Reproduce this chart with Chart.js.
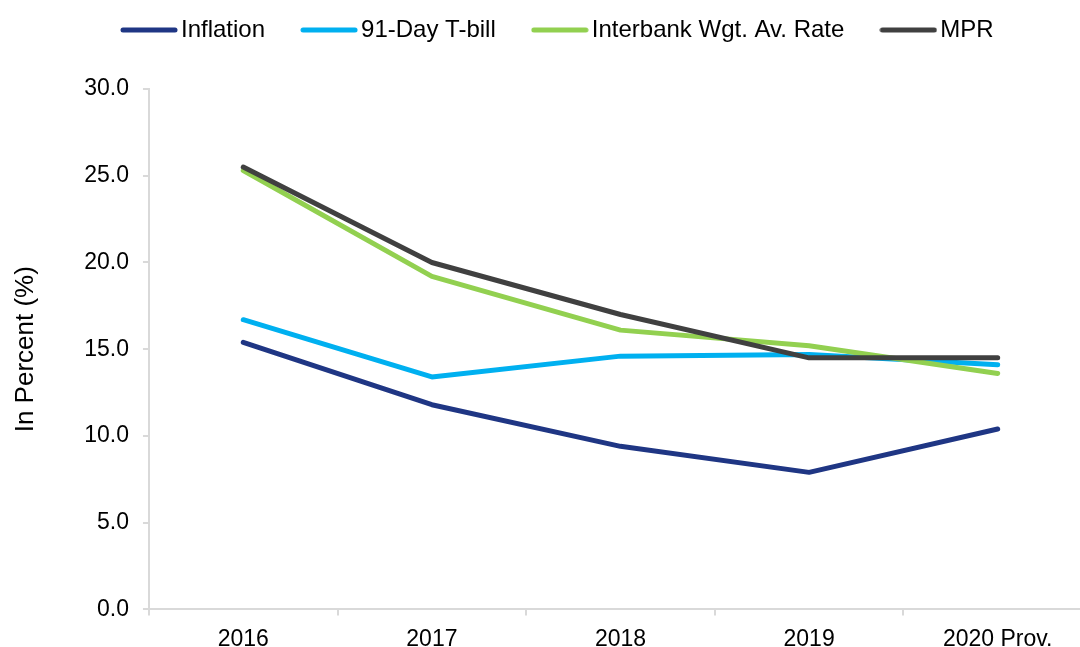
<!DOCTYPE html>
<html>
<head>
<meta charset="utf-8">
<script src="https://cdn.jsdelivr.net/npm/chart.js@4"></script>
<style>
  html, body { margin: 0; padding: 0; background: #fff; overflow: hidden; width: 1080px; height: 647px; }
  #wrap { position: relative; width: 1092px; height: 663px; }
</style>
</head>
<body>
<div id="wrap"><canvas id="chart"></canvas></div>
<script>
// ── DATA ────────────────────────────────────────
const years     = ['2016', '2017', '2018', '2019', '2020 Prov.'];
const inflation = [15.4, 11.8, 9.4, 7.9, 10.4];
const tbill     = [16.7, 13.4, 14.6, 14.7, 14.1];
const interbank = [25.3, 19.2, 16.1, 15.2, 13.6];
const mpr       = [25.5, 20.0, 17.0, 14.5, 14.5];

const axisGrey = '#d9d9d9';
const family = '"Liberation Sans", Arial, sans-serif';
const font = { family, size: 23 };
Chart.defaults.font = font;
Chart.defaults.color = '#000';

const LEGEND_PAD = 44;
const LEGEND_FONT = 24;

// legend marker: a short thick line, a bit wider than its box so the text sits close
function legendLine(color) {
  const c = document.createElement('canvas');
  c.width = 58;
  c.height = 8;
  const ctx = c.getContext('2d');
  ctx.strokeStyle = color;
  ctx.lineWidth = 5;
  ctx.lineCap = 'round';
  ctx.beginPath();
  ctx.moveTo(3, 4);
  ctx.lineTo(55, 4);
  ctx.stroke();
  return c;
}

// legend sits high, with a gap below it before the plot
const legendPlacement = {
  id: 'legendPlacement',
  afterInit(chart) {
    const fit = chart.legend.fit;
    chart.legend.fit = function () {
      fit.call(this);
      this.height = 89;
    };
  },
  afterLayout(chart) {
    const lg = chart.legend;
    lg.top = 30 - LEGEND_FONT / 2 - LEGEND_PAD;
    lg.bottom = lg.top + lg.height;
    lg.left = 129 - LEGEND_PAD;
  }
};

function series(label, data, color, order) {
  return {
    label, data, order,
    borderColor: color,
    backgroundColor: color,
    borderWidth: 5,
    borderCapStyle: 'round',
    borderJoinStyle: 'round',
    pointRadius: 0,
    pointHoverRadius: 0,
    pointStyle: legendLine(color),
    tension: 0,
    fill: false
  };
}

new Chart(document.getElementById('chart'), {
  type: 'line',
  data: {
    labels: years,
    datasets: [
      series('Inflation', inflation, '#1f3684', 4),
      series('91-Day T-bill', tbill, '#00b0f0', 3),
      series('Interbank Wgt. Av. Rate', interbank, '#92d050', 2),
      series('MPR', mpr, '#404040', 1)
    ]
  },
  plugins: [legendPlacement],
  options: {
    responsive: true,
    maintainAspectRatio: false,
    animation: false,
    layout: { padding: { left: 10, right: 0, top: 0, bottom: 0 } },
    plugins: {
      tooltip: { enabled: false },
      legend: {
        position: 'top',
        align: 'start',
        labels: {
          usePointStyle: true,
          pointStyleWidth: 40,
          padding: LEGEND_PAD,
          color: '#000',
          font: { family, size: LEGEND_FONT },
          sort: (a, b) => a.datasetIndex - b.datasetIndex
        }
      }
    },
    scales: {
      x: {
        offset: true,
        grid: {
          offset: true,
          drawOnChartArea: false,
          drawTicks: true,
          tickLength: 6,
          color: axisGrey,
          lineWidth: 2
        },
        border: { color: axisGrey, width: 2 },
        ticks: { padding: 10, color: '#000', font, maxRotation: 0 }
      },
      y: {
        min: 0,
        max: 30,
        grid: {
          drawOnChartArea: false,
          drawTicks: true,
          tickLength: 6,
          color: axisGrey,
          lineWidth: 2
        },
        border: { color: axisGrey, width: 2 },
        ticks: {
          stepSize: 5,
          padding: 14,
          color: '#000',
          font,
          callback: v => v.toFixed(1)
        },
        title: {
          display: true,
          text: 'In Percent (%)',
          color: '#000',
          font: { family, size: 26 },
          padding: { top: 0, bottom: 29 }
        }
      }
    }
  }
});
</script>
</body>
</html>
